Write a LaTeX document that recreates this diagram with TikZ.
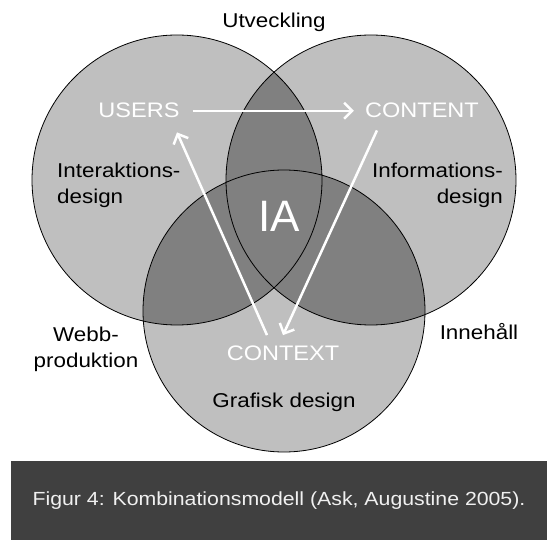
\documentclass[tikz,border=0pt]{standalone}
\usepackage{fontspec}
\setmainfont{Liberation Sans}
\newfontfamily\labelfont{Liberation Sans}[FakeStretch=1.12]
\usetikzlibrary{arrows.meta}

\definecolor{setgray}{gray}{0.75}
\definecolor{overlapgray}{gray}{0.5}
\definecolor{bargray}{gray}{0.25}

\tikzset{
    field/.style={inner sep=0pt, font=\labelfont\fontsize{20}{26}\selectfont},
    corner/.style={inner sep=0pt, text=white, font=\labelfont\fontsize{21}{26}\selectfont},
    flow/.style={white, line width=2.5pt, -{Straight Barb[length=8pt,width=16pt]}},
}

\begin{document}
\begin{tikzpicture}[x=1pt,y=-1pt]
    \useasboundingbox (0,0) rectangle (547,540);
    \coordinate (lc) at (177,180);
    \coordinate (rc) at (371,180);
    \coordinate (bc) at (284,311);
    % three sets, overlaps darker
    \fill[setgray] (lc) circle[radius=145pt] (rc) circle[radius=145pt] (bc) circle[radius=141pt];
    \begin{scope}
        \clip (lc) circle[radius=145pt];
        \fill[overlapgray] (rc) circle[radius=145pt] (bc) circle[radius=141pt];
    \end{scope}
    \begin{scope}
        \clip (rc) circle[radius=145pt];
        \fill[overlapgray] (bc) circle[radius=141pt];
    \end{scope}
    \draw[line width=0.8pt] (lc) circle[radius=145pt] (rc) circle[radius=145pt] (bc) circle[radius=141pt];

    % outer labels
    \node[field, anchor=base] (utv) at (274,28) {Utveckling};
    \node[field, anchor=north west, align=left] (inter) at (57,163) {Interaktions-\\design};
    \node[field, anchor=north east, align=right] (info) at (503,163) {Informations-\\design};
    \node[field, anchor=north, align=center] (webb) at (86,327) {Webb-\\produktion};
    \node[field, anchor=base] (inneh) at (479,340) {Innehåll};
    \node[field, anchor=base] (graf) at (284,408) {Grafisk design};

    % corners of the triangle
    \node[corner, anchor=base] (users) at (139,118) {USERS};
    \node[corner, anchor=base] (content) at (422,118) {CONTENT};
    \node[corner, anchor=base] (context) at (283,361) {CONTEXT};
    \node[inner sep=0pt, text=white, font=\fontsize{44}{50}\selectfont] (ia) at (279,216) {IA};

    \draw[flow, shorten <=13pt, shorten >=11pt] (users.east) -- (content.west);
    \draw[flow] ([shift={(12,12)}]content.south west) -- ([shift={(0,-11)}]context.north);
    \draw[flow] ([shift={(-16,-11)}]context.north) -- ([shift={(38,14)}]users.south);

    % caption bar
    \fill[bargray] (11,461) rectangle (547,540);
    \node[inner sep=0pt, anchor=base, text=white!94!black, font=\labelfont\fontsize{19}{24}\selectfont] (caption) at (279,505) {Figur 4: Kombinationsmodell (Ask, Augustine 2005).};
\end{tikzpicture}
\end{document}
